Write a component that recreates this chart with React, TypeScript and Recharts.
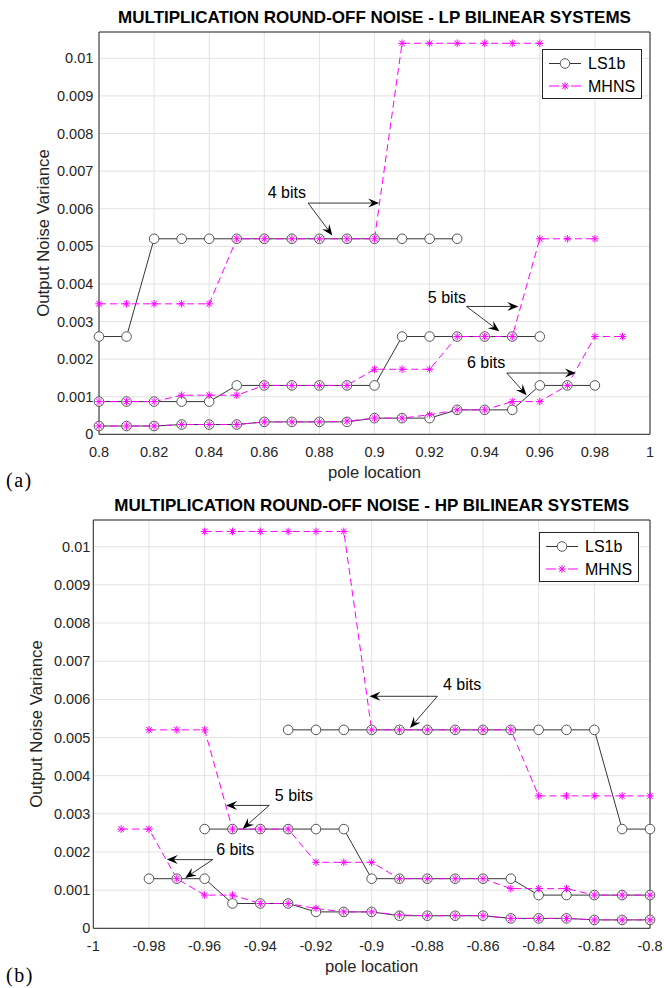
import React from "react";
import { CartesianGrid, Line, LineChart, ReferenceDot, ReferenceLine, XAxis, YAxis } from "recharts";

// pole locations (x) for each panel
const lpPoles = [0.8, 0.81, 0.82, 0.83, 0.84, 0.85, 0.86, 0.87, 0.88, 0.89, 0.9, 0.91, 0.92, 0.93, 0.94, 0.95, 0.96, 0.97, 0.98, 0.99];
const hpPoles = [-0.99, -0.98, -0.97, -0.96, -0.95, -0.94, -0.93, -0.92, -0.91, -0.9, -0.89, -0.88, -0.87, -0.86, -0.85, -0.84, -0.83, -0.82, -0.81, -0.8];

// LP panel: values start at pole 0.80
const lpLs4 = [0.0026, 0.0026, 0.0052, 0.0052, 0.0052, 0.0052, 0.0052, 0.0052, 0.0052, 0.0052, 0.0052, 0.0052, 0.0052, 0.0052];
const lpMh4 = [0.00347, 0.00347, 0.00347, 0.00347, 0.00347, 0.0052, 0.0052, 0.0052, 0.0052, 0.0052, 0.0052, 0.0104, 0.0104, 0.0104, 0.0104, 0.0104, 0.0104];
const lpLs5 = [0.00087, 0.00087, 0.00087, 0.00087, 0.00087, 0.0013, 0.0013, 0.0013, 0.0013, 0.0013, 0.0013, 0.0026, 0.0026, 0.0026, 0.0026, 0.0026, 0.0026];
const lpMh5 = [0.00087, 0.00087, 0.00087, 0.00104, 0.00104, 0.00104, 0.0013, 0.0013, 0.0013, 0.0013, 0.00173, 0.00173, 0.00173, 0.0026, 0.0026, 0.0026, 0.0052, 0.0052, 0.0052];
const lpLs6 = [0.00022, 0.00022, 0.00022, 0.00026, 0.00026, 0.00026, 0.00033, 0.00033, 0.00033, 0.00033, 0.00043, 0.00043, 0.00043, 0.00065, 0.00065, 0.00065, 0.0013, 0.0013, 0.0013];
const lpMh6 = [0.00022, 0.00022, 0.00022, 0.00026, 0.00026, 0.00026, 0.00033, 0.00033, 0.00033, 0.00035, 0.00043, 0.00043, 0.00052, 0.00065, 0.00065, 0.00087, 0.00087, 0.0013, 0.0026, 0.0026];

// HP panel: values end at pole -0.80
const hpLs4 = [0.0052, 0.0052, 0.0052, 0.0052, 0.0052, 0.0052, 0.0052, 0.0052, 0.0052, 0.0052, 0.0052, 0.0052, 0.0026, 0.0026];
const hpMh4 = [0.0104, 0.0104, 0.0104, 0.0104, 0.0104, 0.0104, 0.0052, 0.0052, 0.0052, 0.0052, 0.0052, 0.0052, 0.00347, 0.00347, 0.00347, 0.00347, 0.00347];
const hpLs5 = [0.0026, 0.0026, 0.0026, 0.0026, 0.0026, 0.0026, 0.0013, 0.0013, 0.0013, 0.0013, 0.0013, 0.0013, 0.00087, 0.00087, 0.00087, 0.00087, 0.00087];
const hpMh5 = [0.0052, 0.0052, 0.0052, 0.0026, 0.0026, 0.0026, 0.00173, 0.00173, 0.00173, 0.0013, 0.0013, 0.0013, 0.0013, 0.00104, 0.00104, 0.00104, 0.00087, 0.00087, 0.00087];
const hpLs6 = [0.0013, 0.0013, 0.0013, 0.00065, 0.00065, 0.00065, 0.00043, 0.00043, 0.00043, 0.00033, 0.00033, 0.00033, 0.00033, 0.00026, 0.00026, 0.00026, 0.00022, 0.00022, 0.00022];
const hpMh6 = [0.0026, 0.0026, 0.0013, 0.00087, 0.00087, 0.00065, 0.00065, 0.00052, 0.00043, 0.00043, 0.00035, 0.00033, 0.00033, 0.00033, 0.00026, 0.00026, 0.00026, 0.00022, 0.00022, 0.00022];

const lpTicks = [0.8, 0.82, 0.84, 0.86, 0.88, 0.9, 0.92, 0.94, 0.96, 0.98, 1];
const hpTicks = [-1, -0.98, -0.96, -0.94, -0.92, -0.9, -0.88, -0.86, -0.84, -0.82, -0.8];
const noiseTicks = [0, 0.001, 0.002, 0.003, 0.004, 0.005, 0.006, 0.007, 0.008, 0.009, 0.01];

// "n bits" call-outs, in data units: label, arrow base, arrow tips
const lpNotes = [
  { text: "4 bits", at: [0.8682, 0.00643], from: [0.8759, 0.00615], tips: [[0.9017, 0.00615], [0.8847, 0.00529]] },
  { text: "5 bits", at: [0.9263, 0.00365], from: [0.9334, 0.0034], tips: [[0.9522, 0.0034], [0.9453, 0.00274]] },
  { text: "6 bits", at: [0.9405, 0.0019], from: [0.948, 0.00163], tips: [[0.9731, 0.00163], [0.9552, 0.00104]] }
];
const hpNotes = [
  { text: "4 bits", at: [-0.8675, 0.00638], from: [-0.8764, 0.00608], tips: [[-0.9008, 0.00608], [-0.8862, 0.00525]] },
  { text: "5 bits", at: [-0.9279, 0.00347], from: [-0.9368, 0.00322], tips: [[-0.9523, 0.00322], [-0.9463, 0.00261]] },
  { text: "6 bits", at: [-0.949, 0.00206], from: [-0.9571, 0.0018], tips: [[-0.9736, 0.0018], [-0.967, 0.00132]] }
];

const FONT = '"Liberation Sans", Arial, Helvetica, sans-serif';
const INK = "#262626";
const MAGENTA = "#ff00ff";

type Pt = { x: number; y: number };

const toPoints = (poles: number[], values: number[], fromEnd = false): Pt[] => {
  const offset = fromEnd ? poles.length - values.length : 0;
  return values.map((v, i) => ({ x: poles[offset + i], y: v }));
};

function CircleDot(props: any) {
  const { cx, cy, index } = props;
  if (cx == null || cy == null) return <g key={`c${index}`} />;
  return <circle key={`c${index}`} cx={cx} cy={cy} r={4.8} fill="#fff" stroke="#555" strokeWidth={1} />;
}

function starPath(cx: number, cy: number) {
  const s = 3.8;
  const d = s * 0.72;
  return `M${cx - s},${cy}H${cx + s}M${cx},${cy - s}V${cy + s}M${cx - d},${cy - d}L${cx + d},${cy + d}M${cx - d},${cy + d}L${cx + d},${cy - d}`;
}

function StarDot(props: any) {
  const { cx, cy, index } = props;
  if (cx == null || cy == null) return <g key={`s${index}`} />;
  return <path key={`s${index}`} d={starPath(cx, cy)} stroke={MAGENTA} strokeWidth={1} fill="none" />;
}

function Arrow(props: any) {
  const { x1, y1, x2, y2 } = props;
  if ([x1, y1, x2, y2].some((v) => v == null || Number.isNaN(v))) return <g />;
  const a = Math.atan2(y2 - y1, x2 - x1);
  const c = Math.cos(a);
  const s = Math.sin(a);
  const len = 11;
  const half = 4.5;
  const notch = 7;
  const bx = x2 - len * c;
  const by = y2 - len * s;
  const nx = x2 - notch * c;
  const ny = y2 - notch * s;
  const pts = `${x2},${y2} ${bx - half * s},${by + half * c} ${nx},${ny} ${bx + half * s},${by - half * c}`;
  return (
    <g>
      <line x1={x1} y1={y1} x2={nx} y2={ny} stroke="#000" strokeWidth={0.8} />
      <polygon points={pts} fill="#000" />
    </g>
  );
}

function LegendBox({ left, top }: { left: number; top: number }) {
  return (
    <svg style={{ position: "absolute", left, top }} width={100} height={50}>
      <rect x={0.5} y={0.5} width={99} height={49} fill="#fff" stroke={INK} strokeWidth={1} />
      <line x1={7} y1={14.5} x2={39} y2={14.5} stroke="#000" strokeWidth={0.8} />
      <circle cx={23} cy={14.5} r={4.8} fill="#fff" stroke="#555" strokeWidth={1} />
      <text x={46} y={14.5} dominantBaseline="central" fontSize={16} fontFamily={FONT} fill="#000">
        LS1b
      </text>
      <line x1={7} y1={37} x2={17} y2={37} stroke={MAGENTA} strokeWidth={1} />
      <line x1={29} y1={37} x2={39} y2={37} stroke={MAGENTA} strokeWidth={1} />
      <path d={starPath(23, 37)} stroke={MAGENTA} strokeWidth={1} fill="none" />
      <text x={46} y={37} dominantBaseline="central" fontSize={16} fontFamily={FONT} fill="#000">
        MHNS
      </text>
    </svg>
  );
}

type Note = { text: string; at: number[]; from: number[]; tips: number[][] };

type ChartProps = {
  top: number;
  height: number;
  plot: { left: number; top: number; right: number; bottom: number };
  title: string;
  tag: string;
  xDomain: [number, number];
  xTicks: number[];
  series: { ls: Pt[]; mh: Pt[] }[];
  notes: Note[];
  titleY: number;
  xLabelY: number;
  yLabelX: number;
  yTickGap: number;
  tagY: number;
  legend: { left: number; top: number };
};

function NoiseChart(p: ChartProps) {
  const { plot } = p;
  const margin = { top: plot.top, right: 664 - plot.right, left: plot.left - 60, bottom: p.height - plot.bottom - 30 };
  const yDomain: [number, number] = [0, 0.0107];
  const tickStyle = { fill: INK, fontSize: 14.5, fontFamily: FONT };
  const plotMidX = (plot.left + plot.right) / 2;
  const plotMidY = (plot.top + plot.bottom) / 2;

  return (
    <div style={{ position: "absolute", left: 0, top: p.top, width: 664, height: p.height }}>
      <LineChart width={664} height={p.height} margin={margin}>
        <CartesianGrid stroke="#e2e2e2" strokeWidth={1} />
        <XAxis
          type="number"
          dataKey="x"
          domain={p.xDomain}
          ticks={p.xTicks}
          interval={0}
          height={30}
          tickSize={0}
          tickMargin={12}
          axisLine={{ stroke: INK }}
          tickLine={false}
          tick={tickStyle}
        />
        <XAxis xAxisId="t" orientation="top" mirror type="number" domain={p.xDomain} ticks={p.xTicks} interval={0} allowDataOverflow tick={false} tickSize={5} axisLine={{ stroke: INK }} tickLine={{ stroke: INK }} />
        <XAxis xAxisId="bi" orientation="bottom" mirror type="number" domain={p.xDomain} ticks={p.xTicks} interval={0} allowDataOverflow tick={false} tickSize={5} axisLine={false} tickLine={{ stroke: INK }} />
        <YAxis
          type="number"
          domain={yDomain}
          ticks={noiseTicks}
          interval={0}
          width={60}
          tickSize={0}
          tickMargin={p.yTickGap}
          axisLine={{ stroke: INK }}
          tickLine={false}
          tick={tickStyle}
        />
        <YAxis yAxisId="r" orientation="right" mirror type="number" domain={yDomain} ticks={noiseTicks} interval={0} allowDataOverflow tick={false} tickSize={5} axisLine={{ stroke: INK }} tickLine={{ stroke: INK }} />
        <YAxis yAxisId="li" orientation="left" mirror type="number" domain={yDomain} ticks={noiseTicks} interval={0} allowDataOverflow tick={false} tickSize={5} axisLine={false} tickLine={{ stroke: INK }} />

        {p.series.flatMap((s, i) => [
          <Line
            key={`ls${i}`}
            data={s.ls}
            dataKey="y"
            type="linear"
            stroke="#000"
            strokeWidth={0.8}
            dot={CircleDot}
            activeDot={false}
            isAnimationActive={false}
          />,
          <Line
            key={`mh${i}`}
            data={s.mh}
            dataKey="y"
            type="linear"
            stroke={MAGENTA}
            strokeWidth={1}
            strokeDasharray="7 4"
            dot={StarDot}
            activeDot={false}
            isAnimationActive={false}
          />
        ])}

        {p.notes.flatMap((n, i) => [
          ...n.tips.map((tip, j) => (
            <ReferenceLine
              key={`a${i}-${j}`}
              segment={[
                { x: n.from[0], y: n.from[1] },
                { x: tip[0], y: tip[1] }
              ]}
              ifOverflow="visible"
              shape={Arrow}
            />
          )),
          <ReferenceDot
            key={`t${i}`}
            x={n.at[0]}
            y={n.at[1]}
            r={0}
            ifOverflow="visible"
            shape={(d: any) => (
              <text x={d.cx} y={d.cy} textAnchor="middle" dominantBaseline="central" fontSize={16} fontFamily={FONT} fill="#000">
                {n.text}
              </text>
            )}
          />
        ])}
      </LineChart>

      <div
        style={{
          position: "absolute",
          left: plotMidX,
          top: p.titleY,
          transform: "translate(-50%, -50%)",
          whiteSpace: "nowrap",
          fontFamily: FONT,
          fontWeight: 700,
          fontSize: 17,
          lineHeight: 1,
          color: "#000"
        }}
      >
        {p.title}
      </div>
      <div
        style={{
          position: "absolute",
          left: plotMidX,
          top: p.xLabelY,
          transform: "translate(-50%, -50%)",
          whiteSpace: "nowrap",
          fontFamily: FONT,
          fontSize: 16.6,
          lineHeight: 1,
          color: INK
        }}
      >
        pole location
      </div>
      <div
        style={{
          position: "absolute",
          left: p.yLabelX,
          top: plotMidY,
          transform: "translate(-50%, -50%) rotate(-90deg)",
          whiteSpace: "nowrap",
          fontFamily: FONT,
          fontSize: 16.8,
          lineHeight: 1,
          color: INK
        }}
      >
        Output Noise Variance
      </div>
      <div
        style={{
          position: "absolute",
          left: 6,
          top: p.tagY,
          transform: "translateY(-50%)",
          fontFamily: '"Liberation Serif", "Times New Roman", serif',
          fontSize: 20,
          lineHeight: 1,
          letterSpacing: 1.5,
          color: "#000"
        }}
      >
        {p.tag}
      </div>
      <LegendBox left={p.legend.left} top={p.legend.top} />
    </div>
  );
}

export default function App() {
  const lpSeries = [
    { ls: toPoints(lpPoles, lpLs4), mh: toPoints(lpPoles, lpMh4) },
    { ls: toPoints(lpPoles, lpLs5), mh: toPoints(lpPoles, lpMh5) },
    { ls: toPoints(lpPoles, lpLs6), mh: toPoints(lpPoles, lpMh6) }
  ];
  const hpSeries = [
    { ls: toPoints(hpPoles, hpLs4, true), mh: toPoints(hpPoles, hpMh4, true) },
    { ls: toPoints(hpPoles, hpLs5, true), mh: toPoints(hpPoles, hpMh5, true) },
    { ls: toPoints(hpPoles, hpLs6, true), mh: toPoints(hpPoles, hpMh6, true) }
  ];

  return (
    <div style={{ position: "absolute", left: 0, top: 0, width: 664, height: 988, background: "#fff", overflow: "hidden" }}>
      <NoiseChart
        top={0}
        height={490}
        plot={{ left: 99, top: 32, right: 650, bottom: 434.3 }}
        title="MULTIPLICATION ROUND-OFF NOISE - LP BILINEAR SYSTEMS"
        tag="(a)"
        xDomain={[0.8, 1]}
        xTicks={lpTicks}
        series={lpSeries}
        notes={lpNotes}
        titleY={17}
        xLabelY={472.5}
        yLabelX={43.5}
        yTickGap={5.7}
        tagY={480}
        legend={{ left: 541.5, top: 49 }}
      />
      <NoiseChart
        top={490}
        height={498}
        plot={{ left: 93.3, top: 30, right: 650, bottom: 438.3 }}
        title="MULTIPLICATION ROUND-OFF NOISE - HP BILINEAR SYSTEMS"
        tag="(b)"
        xDomain={[-1, -0.8]}
        xTicks={hpTicks}
        series={hpSeries}
        notes={hpNotes}
        titleY={15}
        xLabelY={476.5}
        yLabelX={37}
        yTickGap={3}
        tagY={485}
        legend={{ left: 539, top: 41.7 }}
      />
    </div>
  );
}
